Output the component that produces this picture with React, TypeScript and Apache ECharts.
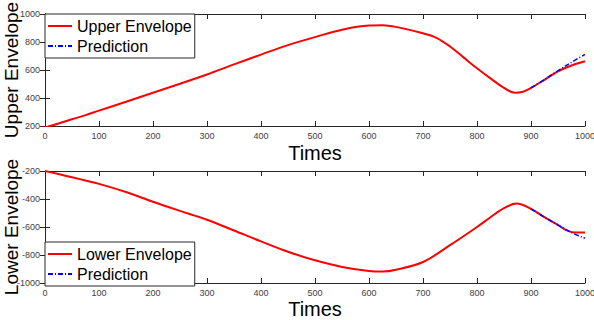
import React, { useEffect, useRef } from "react";
import * as echarts from "echarts";

const upperTimes = [0, 25, 50, 75, 100, 150, 200, 250, 300, 350, 400, 450, 500, 550, 600, 625, 650, 700, 725, 750, 775, 800, 825, 850, 870, 885, 900, 925, 950, 975, 1000];
const upperValues = [190, 218, 248, 278, 310, 373, 438, 502, 568, 640, 710, 778, 835, 888, 918, 920, 908, 862, 830, 768, 690, 612, 540, 472, 438, 445, 472, 530, 590, 632, 662];
const upperPredTimes = [900, 925, 950, 975, 1000];
const upperPredValues = [472, 532, 595, 655, 712];

const lowerTimes = [0, 25, 50, 75, 100, 150, 200, 250, 300, 350, 400, 450, 500, 550, 600, 625, 650, 700, 750, 800, 825, 850, 873, 900, 925, 950, 965, 980, 1000];
const lowerValues = [-200, -222, -245, -268, -292, -350, -420, -485, -548, -625, -703, -777, -838, -885, -914, -918, -905, -850, -730, -600, -530, -465, -433, -470, -530, -585, -622, -640, -640];
const lowerPredTimes = [900, 925, 950, 975, 1000];
const lowerPredValues = [-470, -530, -586, -640, -680];

const xTicks = { min: 0, max: 1000, interval: 100 };
const upperY = { min: 200, max: 1000, interval: 200 };
const lowerY = { min: -1000, max: -200, interval: 200 };

const FONT = "Liberation Sans, Arial, Helvetica, sans-serif";
const AX = "#262626";

function pairs(t: number[], v: number[]) {
  return t.map((x, i) => [x, v[i]]);
}

export default function App() {
  const ref = useRef<HTMLDivElement>(null);
  useEffect(() => {
    if (!ref.current) return;
    const chart = echarts.init(ref.current, undefined, { renderer: "svg" });
    const tickLabel = { color: "#404040", fontSize: 9, fontFamily: FONT, formatter: (v: number) => String(v) };
    const baseX = (grid: number, top: boolean) => ({
      type: "value",
      gridIndex: grid,
      position: top ? "top" : "bottom",
      ...xTicks,
      name: top ? "" : "Times",
      nameLocation: "middle",
      nameGap: grid === 0 ? 17 : 16,
      nameMoveOverlap: false,
      nameTextStyle: { fontSize: 20, color: "#000", fontFamily: FONT },
      axisLine: { show: true, lineStyle: { color: AX, width: 1 } },
      axisTick: { show: true, inside: true, length: 5, lineStyle: { color: AX } },
      axisLabel: top ? { show: false } : { ...tickLabel, margin: 5 },
      splitLine: { show: false },
    });
    const baseY = (grid: number, right: boolean, r: any, name: string) => ({
      type: "value",
      gridIndex: grid,
      position: right ? "right" : "left",
      ...r,
      name: right ? "" : name,
      nameLocation: "middle",
      nameGap: 24,
      nameMoveOverlap: false,
      nameTextStyle: { fontSize: 19, color: "#000", fontFamily: FONT },
      axisLine: { show: true, lineStyle: { color: AX, width: 1 } },
      axisTick: { show: true, inside: true, length: 5, lineStyle: { color: AX } },
      axisLabel: right ? { show: false } : { ...tickLabel, margin: 5 },
      splitLine: { show: false },
    });
    const legendBase = {
      orient: "vertical",
      left: 45,
      itemWidth: 24,
      itemHeight: 12,
      itemGap: 4,
      padding: [4, 3, 4, 2],
      borderColor: AX,
      borderWidth: 1,
      borderRadius: 0,
      backgroundColor: "#fff",
      itemStyle: { opacity: 0 },
      textStyle: { fontSize: 16, color: "#000", fontFamily: FONT },
    };
    chart.setOption({
      animation: false,
      backgroundColor: "#fff",
      grid: [
        { left: 45, right: 9, top: 14, height: 112, outerBoundsMode: "none", containLabel: false },
        { left: 45, right: 9, top: 171, height: 112, outerBoundsMode: "none", containLabel: false },
      ],
      xAxis: [baseX(0, false), baseX(0, true), baseX(1, false), baseX(1, true)],
      yAxis: [
        baseY(0, false, upperY, "Upper Envelope"),
        baseY(0, true, upperY, ""),
        baseY(1, false, lowerY, "Lower Envelope"),
        baseY(1, true, lowerY, ""),
      ],
      legend: [
        { ...legendBase, top: 14, data: ["Upper Envelope", "Prediction"] },
        { ...legendBase, top: 242, data: ["Lower Envelope", "Prediction"] },
      ],
      series: [
        {
          name: "Upper Envelope",
          type: "line",
          xAxisIndex: 0,
          yAxisIndex: 0,
          data: pairs(upperTimes, upperValues),
          smooth: 0.35,
          symbol: "none",
          lineStyle: { color: "#ff0000", width: 2 },
          itemStyle: { color: "#ff0000" },
        },
        {
          name: "Prediction",
          type: "line",
          xAxisIndex: 0,
          yAxisIndex: 0,
          data: pairs(upperPredTimes, upperPredValues),
          smooth: 0.35,
          symbol: "none",
          lineStyle: { color: "#0000ff", width: 1.5, type: [5, 2, 1, 2] },
          itemStyle: { color: "#0000ff" },
        },
        {
          name: "Lower Envelope",
          type: "line",
          xAxisIndex: 2,
          yAxisIndex: 2,
          data: pairs(lowerTimes, lowerValues),
          smooth: 0.35,
          symbol: "none",
          lineStyle: { color: "#ff0000", width: 2 },
          itemStyle: { color: "#ff0000" },
        },
        {
          name: "Prediction",
          type: "line",
          xAxisIndex: 2,
          yAxisIndex: 2,
          data: pairs(lowerPredTimes, lowerPredValues),
          smooth: 0.35,
          symbol: "none",
          lineStyle: { color: "#0000ff", width: 1.5, type: [5, 2, 1, 2] },
          itemStyle: { color: "#0000ff" },
        },
      ],
    });
    return () => chart.dispose();
  }, []);
  return <div ref={ref} style={{ width: 594, height: 320, position: "absolute", left: 0, top: 0 }} />;
}
